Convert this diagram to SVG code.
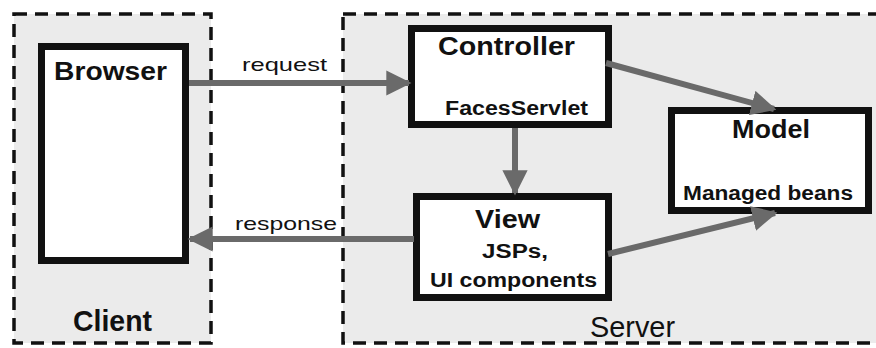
<svg xmlns="http://www.w3.org/2000/svg" width="876" height="348" viewBox="0 0 876 348">
  <style>
    .zone { fill: #ebebeb; stroke: #111; stroke-width: 3.5; stroke-dasharray: 13 8; }
    .box { fill: #fff; stroke: #111; stroke-width: 7; }
    .conn { stroke: #6a6a6a; stroke-width: 6; fill: none; }
    text { font-family: "Liberation Sans", Arial, sans-serif; fill: #111; }
    .title { font-weight: bold; font-size: 26px; }
    .sub { font-weight: bold; font-size: 20px; }
    .lbl { font-size: 19px; }
  </style>
  <defs>
    <marker id="head" viewBox="0 0 10 10" refX="9" refY="5" markerWidth="4.2" markerHeight="4.2" orient="auto" markerUnits="strokeWidth">
      <path d="M0,0 L10,5 L0,10 z" fill="#6a6a6a"/>
    </marker>
  </defs>

  <rect width="876" height="348" fill="#fff"/>

  <!-- tiers -->
  <g id="client">
    <rect class="zone" x="14" y="14" width="197" height="329"/>
    <text x="73" y="331" font-size="30" font-weight="bold" textLength="79" lengthAdjust="spacingAndGlyphs">Client</text>
  </g>
  <g id="server">
    <rect class="zone" x="343" y="14" width="540" height="329"/>
    <text x="590" y="337" font-size="29" textLength="85" lengthAdjust="spacingAndGlyphs">Server</text>
  </g>

  <!-- nodes -->
  <g id="browser">
    <rect class="box" x="41.5" y="46.5" width="144" height="214"/>
    <text class="title" x="54" y="80" textLength="113" lengthAdjust="spacingAndGlyphs">Browser</text>
  </g>
  <g id="controller">
    <rect class="box" x="411.5" y="28.5" width="197" height="96"/>
    <text class="title" x="438" y="55" textLength="137" lengthAdjust="spacingAndGlyphs">Controller</text>
    <text class="sub" x="445" y="115" textLength="143" lengthAdjust="spacingAndGlyphs">FacesServlet</text>
  </g>
  <g id="view">
    <rect class="box" x="416.5" y="196.5" width="192" height="101"/>
    <text class="title" x="475" y="228" font-size="29" textLength="65" lengthAdjust="spacingAndGlyphs">View</text>
    <text class="sub" x="482" y="258" textLength="66" lengthAdjust="spacingAndGlyphs">JSPs,</text>
    <text class="sub" x="430" y="287" textLength="167" lengthAdjust="spacingAndGlyphs">UI components</text>
  </g>
  <g id="model">
    <rect class="box" x="671.5" y="110.5" width="197" height="100"/>
    <text class="title" x="732" y="138" font-size="29" textLength="78" lengthAdjust="spacingAndGlyphs">Model</text>
    <text class="sub" x="683" y="200" textLength="170" lengthAdjust="spacingAndGlyphs">Managed beans</text>
  </g>

  <!-- connectors -->
  <g id="connectors">
    <line class="conn" x1="189" y1="83" x2="409" y2="83" stroke-width="7" marker-end="url(#head)"/>
    <line class="conn" x1="414" y1="239" x2="190" y2="239" marker-end="url(#head)"/>
    <line class="conn" x1="515" y1="128" x2="515" y2="193" marker-end="url(#head)"/>
    <line class="conn" x1="606" y1="63" x2="774" y2="109" marker-end="url(#head)"/>
    <line class="conn" x1="608" y1="254" x2="775" y2="213" marker-end="url(#head)"/>
    <text class="lbl" x="242" y="71" textLength="85" lengthAdjust="spacingAndGlyphs">request</text>
    <text class="lbl" x="235" y="230" textLength="102" lengthAdjust="spacingAndGlyphs">response</text>
  </g>
</svg>
